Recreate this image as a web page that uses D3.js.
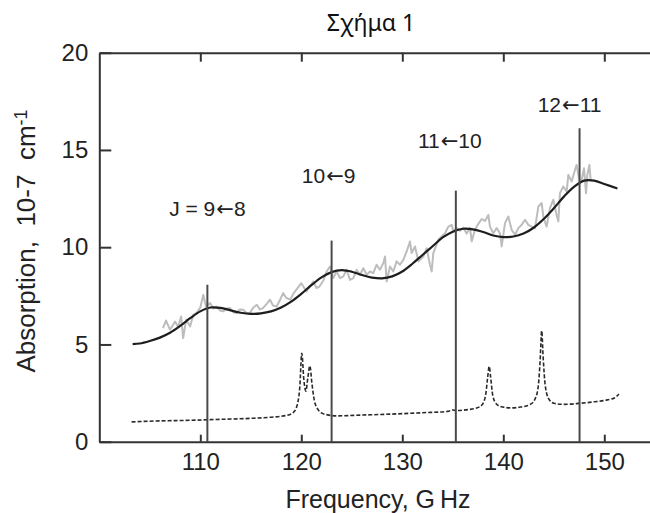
<!DOCTYPE html>
<html>
<head>
<meta charset="utf-8">
<script src="https://cdn.jsdelivr.net/npm/d3@7"></script>
<style>
body { margin: 0; background: #fff; }
svg { display: block; }
text { font-family: "Liberation Sans", Arial, sans-serif; fill: #222; }
</style>
</head>
<body>
<svg class="chart" width="650" height="513"></svg>
<script>
// transition lines (GHz, top value)
var lineFreq = [110.7, 123.0, 135.3, 147.55];
var lineTop = [8.07, 10.34, 12.91, 16.12];
var lineUpper = ["J = 9", "10", "11", "12"];
var lineLower = ["8", "9", "10", "11"];

// fitted (smooth) curve
var fitFreq = [103.3, 104, 105, 106, 107, 108, 109, 110, 111, 112, 113, 114, 115, 116, 117, 118, 119, 120,
    121, 122, 123, 124, 125, 126, 127, 128, 129, 130, 131, 132, 133, 134, 135, 136, 137, 138, 139, 140,
    141, 142, 143, 144, 145, 146, 147, 148, 149, 150, 151.3];
var fitValue = [5.02, 5.05, 5.18, 5.35, 5.6, 5.95, 6.35, 6.7, 6.9, 6.88, 6.75, 6.63, 6.57, 6.6, 6.7, 6.9, 7.2, 7.6,
    8.05, 8.45, 8.72, 8.82, 8.74, 8.57, 8.44, 8.4, 8.5, 8.75, 9.15, 9.6, 10.05, 10.5, 10.8, 10.95, 10.92, 10.78, 10.6, 10.52,
    10.55, 10.7, 11.0, 11.45, 12.0, 12.6, 13.1, 13.42, 13.42, 13.25, 13.02];

// measured spectrum (grey)
var measFreq = [106.3, 106.6, 107.0, 107.5, 107.8, 108.1, 108.3, 108.6, 109.0, 109.3, 109.6, 110.0, 110.3, 110.56,
    110.96, 111.3, 111.6, 111.95, 112.3, 112.6, 112.94, 113.3, 113.6, 113.9, 114.25, 114.6, 114.9, 115.25, 115.6,
    115.9, 116.2, 116.6, 116.9, 117.2, 117.56, 117.9, 118.2, 118.5, 118.9, 119.2, 119.5, 120.0, 120.5, 120.8, 121.2,
    121.5, 121.8, 122.2, 122.5, 122.84, 123.17, 123.5, 123.83, 124.16, 124.49, 124.82, 125.15, 125.48, 125.81,
    126.14, 126.47, 126.8, 127.13, 127.46, 127.79, 128.12, 128.29, 128.45, 128.78, 129.11, 129.44, 129.77, 130.1,
    130.43, 130.76, 130.93, 131.26, 131.59, 132.08, 132.41, 132.74, 132.91, 133.07, 133.57, 133.9, 134.23, 134.56,
    134.89, 135.05, 135.38, 135.71, 136.04, 136.37, 136.7, 136.87, 137.2, 137.53, 137.86, 138.19, 138.52, 138.68,
    139.01, 139.34, 139.67, 139.84, 140.17, 140.5, 140.83, 141.16, 141.49, 141.82, 142.15, 142.48, 142.81, 143.14,
    143.47, 143.8, 143.96, 144.29, 144.62, 144.95, 145.28, 145.45, 145.61, 145.94, 146.27, 146.44, 146.77, 147.1,
    147.26, 147.43, 147.59, 147.76, 147.99, 148.19, 148.32, 148.52, 148.65];
var measValue = [5.84, 6.23, 5.76, 6.18, 5.9, 6.44, 5.33, 6.27, 5.93, 6.53, 6.6, 6.9, 7.55, 6.95,
    7.13, 6.85, 6.95, 6.75, 6.7, 6.85, 6.87, 6.65, 6.61, 6.8, 6.78, 6.6, 6.61, 6.9, 7.04,
    6.8, 6.87, 7.1, 7.3, 7.0, 6.95, 7.3, 7.64, 7.4, 7.3, 7.6, 7.81, 8.15, 7.73, 7.95, 8.24,
    7.9, 7.98, 8.3, 8.75, 9.01, 8.41, 8.75, 8.41, 8.5, 8.84, 8.32, 8.41, 8.84, 8.58,
    8.92, 8.58, 8.75, 8.67, 9.1, 8.84, 9.18, 9.52, 8.24, 9.01, 8.75, 9.27, 9.1, 9.35,
    9.78, 10.29, 9.7, 10.04, 9.27, 9.52, 9.95, 9.1, 8.75, 9.7, 10.38, 10.55, 10.72, 11.06,
    11.15, 10.81, 10.98, 10.85, 11.0, 10.7, 11.0, 10.3, 10.9, 11.2, 11.45, 11.35, 11.66, 11.06,
    10.72, 10.98, 10.72, 10.04, 11.24, 11.58, 10.89, 10.64, 10.98, 11.15, 11.41, 11.15, 11.06, 10.98,
    12.09, 12.27, 11.58, 11.06, 12.01, 12.44, 11.66, 11.32, 12.78, 13.12, 12.86, 13.72, 13.38, 13.98,
    14.23, 13.72, 13.29, 13.46, 14.06, 12.78, 13.72, 14.23, 13.46];

// calculated spectrum (dashed)
var calcFreq = [103.2, 106, 109, 112, 115, 117, 118.5, 119.2, 119.6, 119.85, 120.05, 120.25, 120.45, 120.65,
    120.85, 121.05, 121.3, 121.6, 122, 122.6, 123.5, 126, 129, 132, 134.5, 135.0, 135.3, 136.5, 137.3, 137.9,
    138.25, 138.45, 138.6, 138.75, 138.95, 139.3, 139.8, 140.7, 141.7, 142.6, 143.1, 143.45, 143.65, 143.8,
    143.95, 144.15, 144.5, 145, 146, 147.5, 149, 150.3, 151, 151.45];
var calcValue = [1.02, 1.07, 1.1, 1.15, 1.2, 1.26, 1.35, 1.5, 1.9, 2.8, 4.55, 3.2, 2.6, 3.3,
    3.9, 3.0, 2.1, 1.7, 1.48, 1.38, 1.33, 1.37, 1.42, 1.49, 1.56, 1.63, 1.6, 1.65, 1.72, 1.9,
    2.4, 3.3, 3.87, 3.3, 2.4, 1.95, 1.8, 1.74, 1.78, 1.9, 2.15, 2.8, 4.2, 5.7,
    4.3, 2.9, 2.2, 1.98, 1.92, 1.97, 2.05, 2.15, 2.25, 2.45];

var xTicks = [110, 120, 130, 140, 150];
var yTicks = [0, 5, 10, 15, 20];

var svg = d3.select(".chart");

var xScale = d3.scaleLinear().domain([100, 155]).range([99.3, 654.8]);
var yScale = d3.scaleLinear().domain([0, 20]).range([441.7, 52.7]);

function zip(a, b) {
    return a.map(function(d, i) { return [d, b[i]]; });
}

var line = d3.line()
    .x(function(d) { return xScale(d[0]); })
    .y(function(d) { return yScale(d[1]); });

// title
svg.append("text")
    .attr("x", 371)
    .attr("y", 31)
    .attr("text-anchor", "middle")
    .style("font-family", "'Noto Sans', 'Open Sans', sans-serif")
    .style("font-size", "23px")
    .style("fill", "#111")
    .text("Σχήμα 1");

// grey measured trace
svg.append("path")
    .datum(zip(measFreq, measValue))
    .attr("fill", "none")
    .attr("stroke", "#bdbdbd")
    .attr("stroke-width", 2)
    .attr("stroke-linejoin", "round")
    .attr("d", line);

// dashed calculated spectrum
svg.append("path")
    .datum(zip(calcFreq, calcValue))
    .attr("fill", "none")
    .attr("stroke", "#2a2a2a")
    .attr("stroke-width", 1.6)
    .attr("stroke-dasharray", "4,2")
    .attr("d", line.curve(d3.curveMonotoneX));

// smooth fit
svg.append("path")
    .datum(zip(fitFreq, fitValue))
    .attr("fill", "none")
    .attr("stroke", "#1e1e1e")
    .attr("stroke-width", 2.2)
    .attr("d", line.curve(d3.curveCatmullRom));

// transition markers
svg.selectAll(".trans")
    .data(lineFreq)
    .enter()
    .append("line")
    .attr("class", "trans")
    .attr("x1", function(d) { return xScale(d); })
    .attr("x2", function(d) { return xScale(d); })
    .attr("y1", yScale(0))
    .attr("y2", function(d, i) { return yScale(lineTop[i]); })
    .attr("stroke", "#4a4a4a")
    .attr("stroke-width", 2);

var labelDx = [0, -3, -6, -10];
var labelY = [216, 182.5, 148, 112];
var labs = svg.selectAll(".lab")
    .data(lineUpper)
    .enter()
    .append("text")
    .attr("class", "lab")
    .attr("x", function(d, i) { return xScale(lineFreq[i]) + labelDx[i]; })
    .attr("y", function(d, i) { return labelY[i]; })
    .attr("text-anchor", "middle")
    .style("font-size", "21px");
labs.append("tspan").text(function(d) { return d; });
labs.append("tspan")
    .style("font-family", "'DejaVu Sans', sans-serif")
    .style("font-size", "21px")
    .attr("dx", 1)
    .text("\u2190");
labs.append("tspan").text(function(d, i) { return lineLower[i]; });

// axes
var bottom = svg.append("g")
    .attr("transform", "translate(0," + yScale(0) + ")")
    .call(d3.axisBottom(xScale).tickValues(xTicks).tickSizeInner(-7).tickSizeOuter(0).tickPadding(11));

var top_ = svg.append("g")
    .attr("transform", "translate(0," + yScale(20) + ")")
    .call(d3.axisTop(xScale).tickValues(xTicks).tickSizeInner(-9).tickSizeOuter(0).tickFormat(""));

var left = svg.append("g")
    .attr("transform", "translate(" + xScale(100) + ",0)")
    .call(d3.axisLeft(yScale).tickValues(yTicks).tickSizeInner(-12).tickSizeOuter(0).tickPadding(11));

[bottom, top_, left].forEach(function(g) {
    g.select(".domain").attr("stroke", "#333").attr("stroke-width", 2);
    g.selectAll(".tick line").attr("stroke", "#333").attr("stroke-width", 2);
    g.selectAll(".tick text")
        .style("font-family", "'Liberation Sans', Arial, sans-serif")
        .style("font-size", "24px")
        .style("fill", "#222");
});

svg.append("text")
    .attr("x", 378)
    .attr("y", 508)
    .attr("text-anchor", "middle")
    .style("font-size", "25px")
    .text("Frequency, G\u2009Hz");

var ylab = svg.append("text")
    .attr("transform", "translate(35,241) rotate(-90)")
    .attr("text-anchor", "middle")
    .style("font-size", "26px")
    .style("white-space", "pre");
ylab.append("tspan").text("Absorption,  10-7  cm");
ylab.append("tspan")
    .attr("dy", "-0.45em")
    .style("font-size", "18px")
    .text("-1");
</script>
</body>
</html>
